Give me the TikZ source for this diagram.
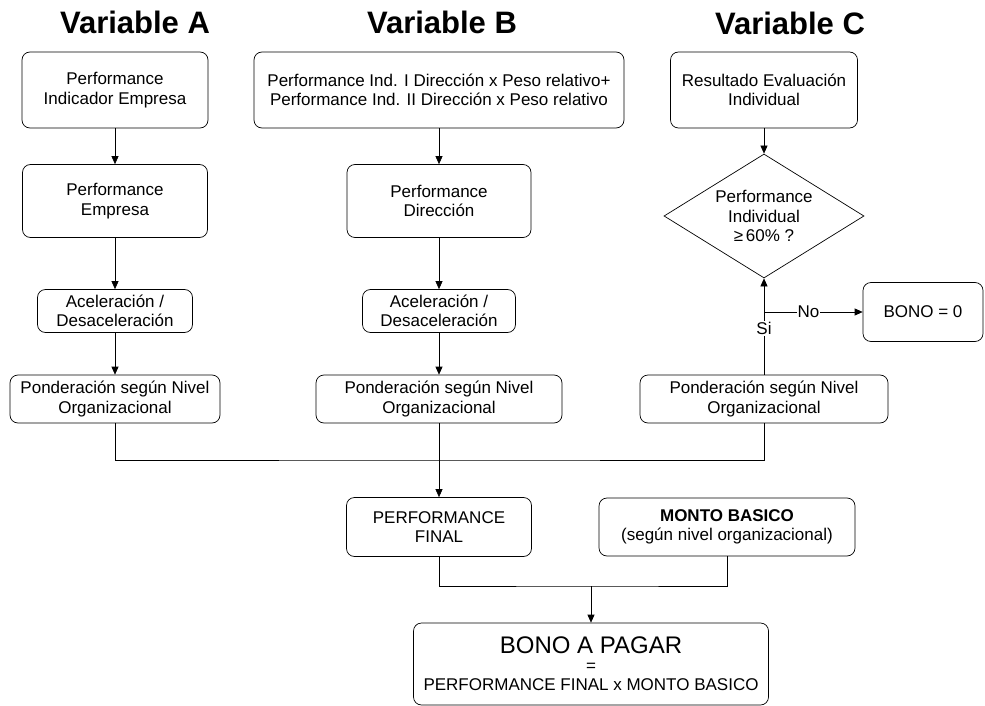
\documentclass[tikz,border=0pt]{standalone}
\usepackage{fontspec}
\setmainfont{Liberation Sans}
\usetikzlibrary{shapes,shapes.geometric,arrows.meta}
\tikzset{
  flownode/.style = {align=center, inner sep=2pt, text centered, font=\fontsize{17}{19.5}\selectfont},
  box_r/.style = {flownode, draw=black, rounded corners=8pt, line width=0.7pt},
  box_d/.style = {flownode, diamond, draw=black, inner sep=0pt, aspect=1.6, line width=0.7pt, minimum width=200pt, minimum height=124pt},
  var_t/.style = {font=\fontsize{31}{33}\selectfont\bfseries},
  lbl_n/.style = {fill=white, inner sep=1pt, font=\fontsize{17}{19}\selectfont},
  conn/.style = {draw=black, line width=0.7pt},
  conn_a/.style = {conn, -{Triangle[length=8pt,width=7pt]}}
}

\begin{document}
\begin{tikzpicture}[x=1pt,y=-1pt]
	\useasboundingbox (0,0) rectangle (985,706);
	\node[var_t] (tA) at (135,22) {Variable A};
	\node[var_t] (tB) at (442,22) {Variable B};
	\node[var_t] (tC) at (790,23) {Variable C};
	% Variable A
	\node[box_r, minimum width=186pt, minimum height=76pt] (a1) at (115,90) {Performance\\Indicador Empresa};
	\node[box_r, minimum width=185pt, minimum height=73pt] (a2) at (115,201) {Performance\\Empresa};
	\node[box_r, minimum width=155pt, minimum height=43pt] (a3) at (115,311) {Aceleración /\\Desaceleración};
	\node[box_r, minimum width=210pt, minimum height=48pt] (a4) at (115,399) {Ponderación según Nivel\\Organizacional};
	% Variable B
	\node[box_r, minimum width=370pt, minimum height=76pt] (b1) at (439,90) {Performance Ind. I Dirección x Peso relativo+\\Performance Ind. II Dirección x Peso relativo};
	\node[box_r, minimum width=184pt, minimum height=73pt] (b2) at (439,201) {Performance\\Dirección};
	\node[box_r, minimum width=153pt, minimum height=43pt] (b3) at (439,311) {Aceleración /\\Desaceleración};
	\node[box_r, minimum width=246pt, minimum height=48pt] (b4) at (439,399) {Ponderación según Nivel\\Organizacional};
	% Variable C
	\node[box_r, minimum width=187pt, minimum height=76pt] (c1) at (764,90) {Resultado Evaluación\\Individual};
	\node[box_d] (cd) at (764,216) {Performance\\Individual\\≥\,60\% ?};
	\node[box_r, minimum width=120pt, minimum height=59pt] (c0) at (923,312) {BONO = 0};
	\node[box_r, minimum width=248pt, minimum height=48pt] (c4) at (764,399) {Ponderación según Nivel\\Organizacional};
	% resultado
	\node[box_r, minimum width=185pt, minimum height=59pt] (pf) at (439,527) {PERFORMANCE\\FINAL};
	\node[box_r, minimum width=256pt, minimum height=58pt] (mb) at (727,527) {\textbf{MONTO BASICO}\\(según nivel organizacional)};
	\node[box_r, minimum width=355pt, minimum height=82pt] (bono) at (591,664)
		{{\fontsize{24}{26}\selectfont BONO A PAGAR}\\[-2pt] =\\PERFORMANCE FINAL x MONTO BASICO};

	\coordinate (jAB) at (439,460);
	\coordinate (jC) at (764,312);
	\coordinate (jF) at (591,586);

	\draw[conn_a] (a1) -- (a2);
	\draw[conn_a] (a2) -- (a3);
	\draw[conn_a] (a3) -- (a4);
	\draw[conn_a] (b1) -- (b2);
	\draw[conn_a] (b2) -- (b3);
	\draw[conn_a] (b3) -- (b4);
	\draw[conn_a] (b4) -- (pf);
	\draw[conn] (a4.south) |- (jAB) -| (c4.south);
	\draw[conn_a] (c1) -- (cd);
	\draw[conn_a] (c4.north) -- node[lbl_n, pos=0.48] {Si} (cd.south);
	\draw[conn_a] (jC) -- node[lbl_n, pos=0.45] {No} (c0.west);
	\draw[conn] (pf.south) |- (jF) -| (mb.south);
	\draw[conn_a] (jF) -- (bono.north);
\end{tikzpicture}
\end{document}
